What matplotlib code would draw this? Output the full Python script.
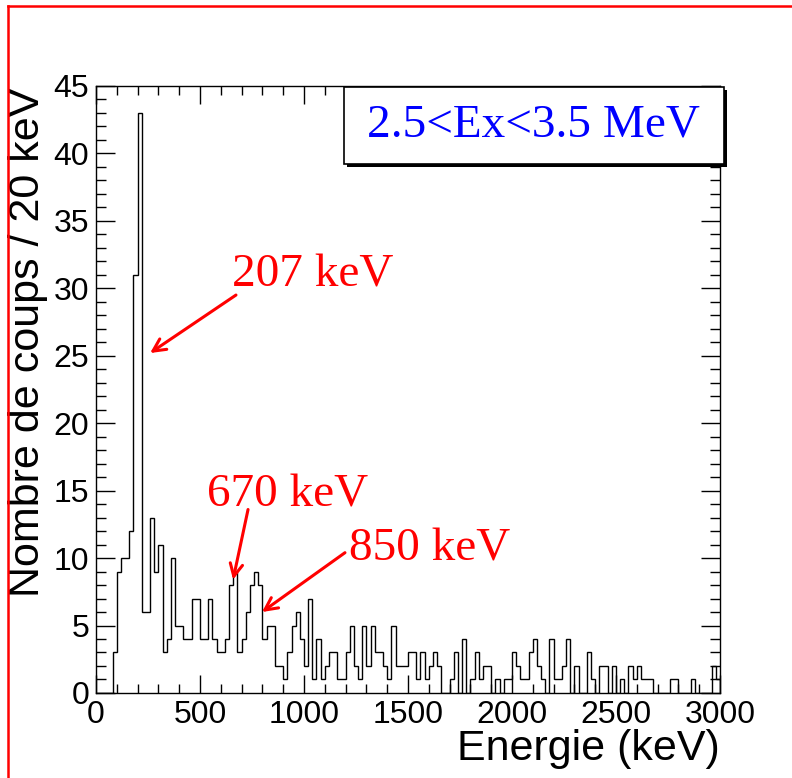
import numpy as np
import matplotlib
matplotlib.use("Agg")
import matplotlib.pyplot as plt
from matplotlib.lines import Line2D
from matplotlib.patches import Rectangle
from matplotlib.ticker import MultipleLocator

# Gamma spectrum, 20 keV bins from 0 to 3000 keV (2.5 < Ex < 3.5 MeV gate)
bin_width = 20
e_min, e_max = 0, 3000
counts = [
    0, 0, 0, 0, 3, 9, 10, 10, 12, 31,
    43, 6, 6, 13, 9, 11, 3, 4, 10, 5,
    5, 4, 4, 7, 7, 4, 4, 7, 4, 3,
    3, 4, 8, 9, 3, 4, 6, 8, 9, 8,
    4, 5, 5, 2, 2, 1, 3, 5, 6, 4,
    2, 7, 1, 4, 1, 2, 3, 3, 1, 1,
    3, 5, 2, 1, 5, 2, 5, 3, 3, 2,
    1, 5, 2, 2, 2, 3, 3, 1, 3, 1,
    2, 3, 2, 0, 0, 1, 3, 0, 4, 0,
    1, 3, 1, 2, 2, 0, 1, 0, 1, 1,
    3, 2, 1, 1, 3, 4, 2, 1, 0, 4,
    1, 1, 2, 4, 0, 2, 0, 0, 3, 1,
    0, 2, 2, 0, 2, 0, 1, 0, 2, 1,
    2, 1, 1, 1, 0, 0, 0, 0, 1, 1,
    0, 0, 0, 1, 0, 0, 0, 0, 2, 1,
]

gate_label = "2.5<Ex<3.5 MeV"
x_title = "Energie (keV)"
y_title = "Nombre de coups / 20 keV"

# peak labels: text, text position (keV, counts), arrow tail, arrow tip
peaks = [
    ("207 keV", (654, 30.1), (673, 29.5), (260, 25.2)),
    ("670 keV", (534, 13.8), (731, 13.6), (659, 8.4)),
    ("850 keV", (1216, 9.8), (1197, 10.4), (798, 6.0)),
]

edges = np.arange(e_min, e_max + bin_width, bin_width)

sans = "Liberation Sans"
serif = "Liberation Serif"

fig = plt.figure(figsize=(7.92, 7.78), dpi=100)
ax = fig.add_axes([0.1212, 0.1093, 0.7879, 0.7802])

ax.stairs(counts, edges, color="black", lw=1.0)

ax.set_xlim(e_min, e_max)
ax.set_ylim(0, 45)
ax.xaxis.set_major_locator(MultipleLocator(500))
ax.xaxis.set_minor_locator(MultipleLocator(100))
ax.yaxis.set_major_locator(MultipleLocator(5))
ax.yaxis.set_minor_locator(MultipleLocator(1))

ax.tick_params(which="both", direction="in", top=True, right=True,
               width=1.0, labelsize=23)
ax.tick_params(axis="x", which="major", length=13, pad=5)
ax.tick_params(axis="x", which="minor", length=6.5)
ax.tick_params(axis="y", which="major", length=13.5, pad=5)
ax.tick_params(axis="y", which="minor", length=7)
for lab in ax.get_xticklabels() + ax.get_yticklabels():
    lab.set_fontfamily(sans)
for sp in ax.spines.values():
    sp.set_linewidth(1.0)

ax.text(1.0, -0.110, x_title, transform=ax.transAxes, ha="right",
        va="baseline", fontsize=31, fontfamily=sans)
ax.text(-0.109, 0.997, y_title, transform=ax.transAxes, rotation=90,
        ha="center", va="top", fontsize=31, fontfamily=sans)

# gate box with ROOT-like drop shadow
bx, by, bw, bh = 0.397, 0.871, 0.609, 0.127
ax.add_patch(Rectangle((bx + 0.005, by - 0.005), bw, bh, transform=ax.transAxes,
                       facecolor="black", edgecolor="none", clip_on=False, zorder=4))
ax.add_patch(Rectangle((bx, by), bw, bh, transform=ax.transAxes,
                       facecolor="white", edgecolor="black", lw=1.2,
                       clip_on=False, zorder=5))
ax.text(bx + bw / 2, by + bh / 2, gate_label, transform=ax.transAxes,
        ha="center", va="center", color="blue", fontsize=34,
        fontfamily=serif, zorder=6)

for label, pos, tail, tip in peaks:
    ax.text(pos[0], pos[1], label, ha="left", va="baseline", color="red",
            fontsize=34, fontfamily=serif)
    ax.annotate("", xy=tip, xytext=tail,
                arrowprops=dict(arrowstyle="->,head_length=0.9,head_width=0.45",
                                color="red", lw=2.2, shrinkA=0, shrinkB=0))

# red canvas frame (left and top edges)
fig.add_artist(Line2D([0.0105, 0.0105], [0.0, 0.992], color="red", lw=1.8,
                      transform=fig.transFigure))
fig.add_artist(Line2D([0.0105, 1.0], [0.992, 0.992], color="red", lw=1.8,
                      transform=fig.transFigure))

fig.savefig("out.png", dpi=100, facecolor="white")
